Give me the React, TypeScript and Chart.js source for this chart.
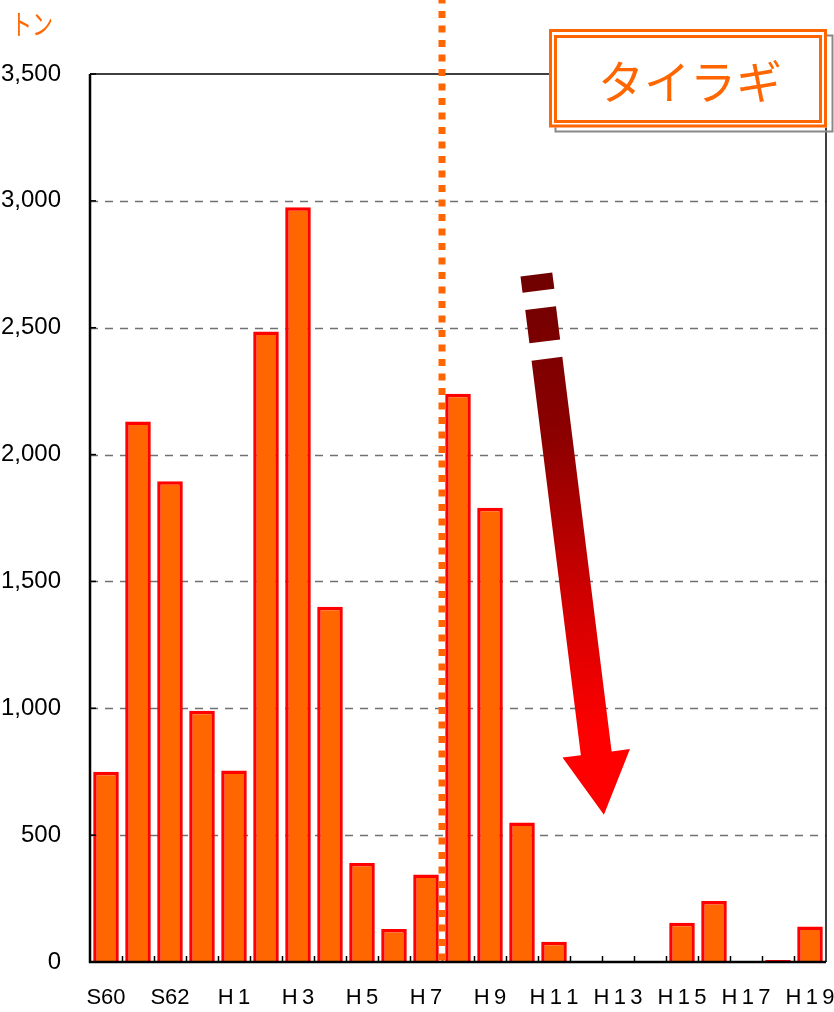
import React, { useEffect, useRef } from "react";
import { Chart, registerables } from "chart.js";

Chart.register(...registerables);

// Fiscal years S60 (1985) .. H19 (2007)
const categories = [
  "S60", "S61", "S62", "S63", "H1", "H2", "H3", "H4", "H5", "H6", "H7", "H8",
  "H9", "H10", "H11", "H12", "H13", "H14", "H15", "H16", "H17", "H18", "H19",
];
// Catch in tonnes
const catchTonnes = [
  750, 2130, 1895, 990, 755, 2485, 2975, 1400, 390, 130, 345, 2240,
  1790, 550, 80, 0, 0, 0, 155, 240, 0, 8, 140,
];
// Shown x tick labels (every other year; thin spaces mimic the spaced digits)
const tickLabels = [
  "S60", "", "S62", "", "H\u20091", "", "H\u20093", "", "H\u20095", "", "H\u20097", "",
  "H\u20099", "", "H\u20091\u20091", "", "H\u20091\u20093", "", "H\u20091\u20095", "",
  "H\u20091\u20097", "", "H\u20091\u20099",
];
const yMax = 3500;
const yStep = 500;
const unitLabel = "トン";
const titleText = "タイラギ";
// Annotation anchors in data units (category index, tonnes)
const dividerBetween = [10, 11]; // between H7 and H8
const arrowFrom = { x: 13.45, y: 2710 };
const arrowTo = { x: 15.56, y: 580 };

const ORANGE = "#FF6600";
const FONT = "'Liberation Sans', 'DejaVu Sans', 'Noto Sans CJK JP', sans-serif";
const JP = "'Noto Sans CJK JP', sans-serif";

const decorPlugin = {
  id: "decor",
  beforeDatasetsDraw(chart: any) {
    const { ctx, chartArea } = chart;
    const ys = chart.scales.y;
    ctx.save();
    ctx.strokeStyle = "#707070";
    ctx.lineWidth = 1.5;
    ctx.setLineDash([8, 7]);
    for (let v = yStep; v < yMax; v += yStep) {
      const y = Math.round(ys.getPixelForValue(v)) + 0.5;
      ctx.beginPath();
      ctx.moveTo(chartArea.left, y);
      ctx.lineTo(chartArea.right, y);
      ctx.stroke();
    }
    ctx.restore();
  },
  afterDatasetsDraw(chart: any) {
    const { ctx, chartArea } = chart;
    const ys = chart.scales.y;
    const { left, right, top, bottom } = chartArea;
    ctx.save();
    ctx.strokeStyle = "#000";
    ctx.lineWidth = 1.5;
    ctx.beginPath();
    ctx.moveTo(left, top);
    ctx.lineTo(right, top);
    ctx.lineTo(right, bottom);
    ctx.stroke();
    ctx.lineWidth = 2.5;
    ctx.beginPath();
    ctx.moveTo(left, top);
    ctx.lineTo(left, bottom);
    ctx.lineTo(right, bottom);
    ctx.stroke();
    ctx.lineWidth = 1.5;
    for (let v = 0; v <= yMax; v += yStep) {
      const y = ys.getPixelForValue(v);
      ctx.beginPath();
      ctx.moveTo(left, y);
      ctx.lineTo(left + 6, y);
      ctx.stroke();
    }
    const w = (right - left) / categories.length;
    for (let i = 1; i < categories.length; i++) {
      const x = Math.round(left + i * w) + 0.5;
      ctx.beginPath();
      ctx.moveTo(x, bottom);
      ctx.lineTo(x, bottom - 6);
      ctx.stroke();
    }
    ctx.restore();
  },
  afterDraw(chart: any) {
    const { ctx, chartArea } = chart;
    const xs = chart.scales.x;
    const ys = chart.scales.y;
    ctx.save();
    // dotted divider
    const dx =
      (xs.getPixelForValue(dividerBetween[0]) + xs.getPixelForValue(dividerBetween[1])) / 2;
    ctx.strokeStyle = ORANGE;
    ctx.lineWidth = 7;
    ctx.setLineDash([7, 7.5]);
    ctx.lineDashOffset = 3.5;
    ctx.beginPath();
    ctx.moveTo(dx, 0);
    ctx.lineTo(dx, chartArea.bottom + 6);
    ctx.stroke();
    ctx.setLineDash([]);

    // arrow
    const sx = xs.getPixelForValue(arrowFrom.x);
    const sy = ys.getPixelForValue(arrowFrom.y);
    const tx = xs.getPixelForValue(arrowTo.x);
    const ty = ys.getPixelForValue(arrowTo.y);
    const L = Math.hypot(tx - sx, ty - sy);
    const ang = -Math.atan2(tx - sx, ty - sy);
    ctx.translate(sx, sy);
    ctx.rotate(ang);
    const g = ctx.createLinearGradient(0, 0, 0, L - 80);
    g.addColorStop(0, "#700000");
    g.addColorStop(0.35, "#8C0000");
    g.addColorStop(0.7, "#D00000");
    g.addColorStop(1, "#FF0000");
    ctx.fillStyle = g;
    const hw = 15.5;
    const headBase = L - 62;
    ctx.fillRect(-16, 0, 32, 16.5);
    ctx.fillRect(-hw, 34, hw * 2, 33.5);
    ctx.beginPath();
    ctx.moveTo(-hw, 85);
    ctx.lineTo(hw, 85);
    ctx.lineTo(hw, headBase);
    ctx.lineTo(34, headBase);
    ctx.lineTo(0, L);
    ctx.lineTo(-34, headBase);
    ctx.lineTo(-hw, headBase);
    ctx.closePath();
    ctx.fill();
    ctx.setTransform(1, 0, 0, 1, 0, 0);

    // title box
    const bx0 = 550.5, by0 = 30.5, bx1 = 825.5, by1 = 126;
    ctx.strokeStyle = "#888";
    ctx.lineWidth = 2;
    ctx.strokeRect(bx0 + 5, by0 + 5, bx1 - bx0 + 2, by1 - by0 + 0.5);
    ctx.fillStyle = "#fff";
    ctx.fillRect(bx0 - 1.5, by0 - 1.5, bx1 - bx0 + 3, by1 - by0 + 3);
    ctx.strokeStyle = ORANGE;
    ctx.lineWidth = 3;
    ctx.strokeRect(bx0, by0, bx1 - bx0, by1 - by0);
    ctx.strokeRect(bx0 + 5, by0 + 6, bx1 - bx0 - 10, by1 - by0 - 10.5);
    ctx.fillStyle = ORANGE;
    ctx.font = `46px ${JP}`;
    ctx.textAlign = "center";
    ctx.textBaseline = "middle";
    ctx.fillText(titleText, (bx0 + bx1) / 2 + 2, (by0 + by1) / 2 + 3);

    // unit label (vertically stretched like the original)
    ctx.font = `21px ${JP}`;
    ctx.textAlign = "left";
    ctx.translate(11, 24);
    ctx.scale(1, 1.35);
    ctx.fillText(unitLabel, 0, 0);
    ctx.restore();
  },
};

export default function App() {
  const ref = useRef<HTMLCanvasElement>(null);
  useEffect(() => {
    if (!ref.current) return;
    const chart = new Chart(ref.current, {
      type: "bar",
      data: {
        labels: categories,
        datasets: [
          {
            data: catchTonnes,
            backgroundColor: ORANGE,
            borderColor: "#FF0000",
            borderWidth: 3.5,
            borderSkipped: "start",
            barPercentage: 0.8,
            categoryPercentage: 1,
          },
        ],
      },
      options: {
        responsive: false,
        animation: false,
        layout: { padding: { top: 74, right: 8, left: 0, bottom: 0 } },
        plugins: { legend: { display: false }, tooltip: { enabled: false } },
        scales: {
          x: {
            grid: { display: false, drawTicks: false },
            border: { display: false },
            afterFit: (s: any) => {
              s.height = 50;
              s.paddingLeft = 0;
              s.paddingRight = 0;
            },
            ticks: {
              autoSkip: false,
              maxRotation: 0,
              padding: 23,
              color: "#000",
              font: { family: FONT, size: 22 },
              callback: (_v: any, i: number) => tickLabels[i],
            },
          },
          y: {
            min: 0,
            max: yMax,
            grid: { display: false, drawTicks: false },
            border: { display: false },
            afterFit: (s: any) => {
              s.width = 90;
              s.paddingTop = 0;
              s.paddingBottom = 0;
            },
            ticks: {
              stepSize: yStep,
              padding: 29,
              color: "#000",
              font: { family: FONT, size: 24 },
              callback: (v: any) => Number(v).toLocaleString("en-US"),
            },
          },
        },
      },
      plugins: [decorPlugin],
    });
    return () => chart.destroy();
  }, []);
  return (
    <div style={{ position: "absolute", left: 0, top: 0, width: 834, height: 1012, background: "#fff" }}>
      <canvas ref={ref} width={834} height={1012} style={{ display: "block" }} />
    </div>
  );
}
